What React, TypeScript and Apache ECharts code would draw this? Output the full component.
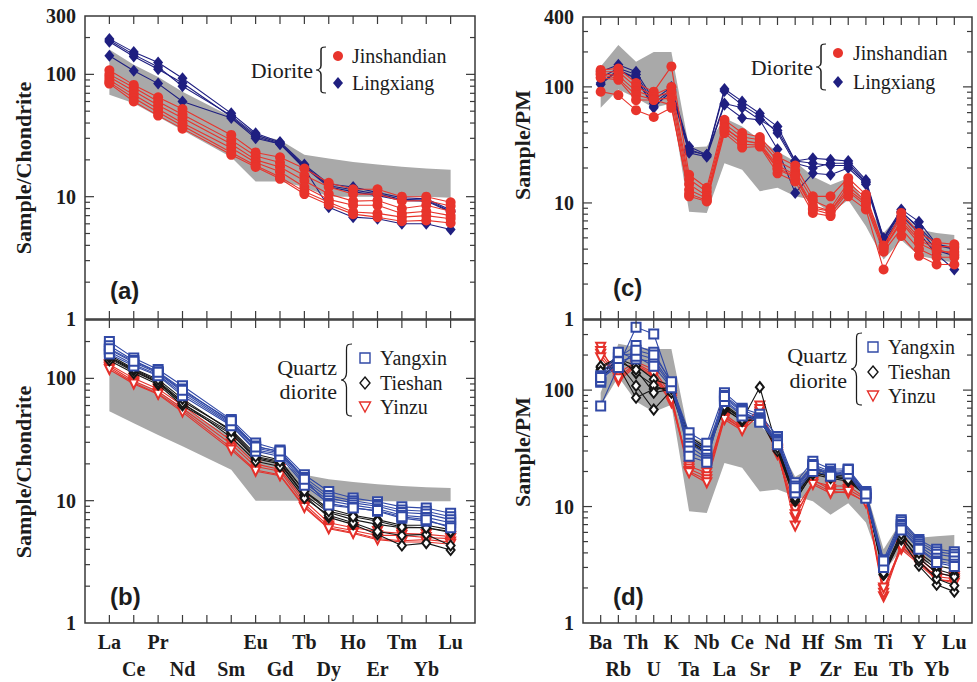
import React, { useEffect, useRef } from "react";
import * as echarts from "echarts";

// ---------------- categories ----------------
const REE_CATEGORIES = ["La", "Ce", "Pr", "Nd", "Pm", "Sm", "Eu", "Gd", "Tb", "Dy", "Ho", "Er", "Tm", "Yb", "Lu"];
const REE_TICK_LABELS = ["La", "Ce", "Pr", "Nd", "", "Sm", "Eu", "Gd", "Tb", "Dy", "Ho", "Er", "Tm", "Yb", "Lu"];
const REE_MEASURED = ["La", "Ce", "Pr", "Nd", "Sm", "Eu", "Gd", "Tb", "Dy", "Ho", "Er", "Tm", "Yb", "Lu"];
const PM_CATEGORIES = ["Ba", "Rb", "Th", "U", "K", "Ta", "Nb", "La", "Ce", "Sr", "Nd", "P", "Hf", "Zr", "Sm", "Eu", "Ti", "Tb", "Y", "Yb", "Lu"];

const REE_Y_MAX = 300;
const PM_Y_MAX = 400;
const LOG_MAJOR_TICKS = [10, 100];
const LOG_MINOR_TICKS = [2, 3, 4, 5, 6, 7, 8, 9, 20, 30, 40, 50, 60, 70, 80, 90, 200, 300];

// ---------------- (a) chondrite-normalised REE, diorite ----------------
const A_JINSHANDIAN = [
  [108, 82, 65, 52, 32, 23, 21, 17, 13, 11.5, 11.5, 10, 10, 9],
  [100, 78, 60, 47, 29, 21.5, 19, 15, 12, 10.5, 10.5, 9.2, 9.3, 8.4],
  [95, 73, 56, 44, 27, 20, 17.5, 13.5, 10.5, 9.2, 9.3, 8.0, 8.5, 7.6],
  [90, 68, 52, 40, 25, 19, 16, 12, 9.5, 8.5, 8.5, 7.3, 7.6, 7.0],
  [86, 64, 49, 38, 23, 18, 14.5, 11, 9, 7.5, 7.3, 6.8, 7.0, 6.6],
  [84, 60, 46, 36, 22, 17.5, 14, 10.5, 8.6, 7.2, 6.8, 6.3, 6.4, 6.1],
];
const A_LINGXIANG = [
  [195, 152, 125, 93, 48, 33, 28, 18.3, 12.7, 12, 10.8, 9.8, 9.6, 7.8],
  [185, 140, 110, 85, 45, 31, 27, 17.5, 12, 11, 10.2, 9.3, 9.2, 7.5],
  [142, 107, 84, 60, 44, 30, 27, 17, 8.2, 6.8, 6.6, 6.0, 6.0, 5.4],
  [190, 145, 115, 80, 46, 32, 27.5, 17.8, 12.3, 11.4, 10.5, 9.5, 9.4, 7.6],
];
const A_FIELD_UPPER = [160, 120, 95, 72, 45, 32, 29, 22, 20.5, 19.2, 18.3, 17.6, 17, 16.6];
const A_FIELD_LOWER = [68, 58, 45, 35, 21, 13.3, 13.3, 12, 10, 10, 10, 10, 10, 9.8];

// ---------------- (b) chondrite-normalised REE, quartz diorite ----------------
const B_YANGXIN = [
  [200, 147, 118, 87, 46, 29.6, 26, 16.3, 11.9, 10.5, 9.8, 8.9, 8.7, 7.9],
  [185, 140, 113, 82, 44, 28, 25, 15.5, 11, 10, 9.3, 8.4, 8.2, 7.4],
  [172, 135, 110, 78, 43, 27, 24.5, 14.8, 10.5, 9.6, 9, 8, 7.8, 7],
  [165, 130, 107, 75, 42, 26, 24, 14, 10, 9.2, 8.6, 7.6, 7.3, 6.6],
  [158, 126, 105, 72, 41, 25.4, 23, 13.4, 9.5, 8.8, 8.2, 7.2, 6.8, 6.2],
  [175, 138, 112, 80, 45, 27.5, 25.5, 15, 9.2, 8.7, 8.3, 7.4, 7.0, 6.0],
];
const B_TIESHAN = [
  [150, 118, 95, 65, 38, 24, 21.5, 12, 8.6, 7.6, 7.0, 6.3, 6.3, 5.8],
  [145, 114, 92, 62, 36, 22.5, 20.5, 11.2, 8.0, 7.0, 6.4, 6.0, 6.0, 5.5],
  [140, 110, 89, 60, 35, 22, 20, 11, 7.3, 6.4, 5.3, 4.3, 4.5, 3.95],
  [148, 116, 93, 63, 33, 21, 19, 10.5, 7.6, 6.6, 5.6, 5.2, 5.3, 4.3],
  [155, 120, 98, 68, 37, 23, 21, 12, 8.2, 7.4, 6.8, 6.1, 6.0, 5.6],
];
const B_YINZU = [
  [126, 95, 78, 57, 29, 19, 17.4, 9.4, 6.2, 5.7, 5.2, 5.2, 5.0, 4.9],
  [122, 92, 75, 55, 27, 17.8, 16.3, 9.0, 6.0, 5.5, 4.9, 4.7, 4.8, 4.6],
  [130, 100, 82, 60, 31, 20, 18, 10, 6.6, 6.0, 5.6, 5.4, 5.3, 5.1],
  [118, 90, 74, 53, 26, 17.4, 16, 8.8, 5.9, 5.4, 4.8, 4.6, 4.6, 4.4],
];
const B_FIELD_UPPER = [118, 95, 78, 58, 33, 22, 20, 16.3, 15, 14.2, 13.6, 13.2, 12.9, 12.7];
const B_FIELD_LOWER = [53.8, 43, 34.5, 27.8, 17.9, 10, 10, 10, 9.9, 9.9, 9.9, 9.9, 9.9, 9.9];

// ---------------- (c) primitive-mantle-normalised, diorite ----------------
const C_JINSHANDIAN = [
  [140, 144, 108, 91, 150, 17.5, 13.5, 52, 40, 37, 25, 21, 11.4, 11.4, 16.4, 11.8, 4.2, 8.2, 5.5, 4.55, 4.4],
  [135, 135, 100, 85, 100, 16, 12.5, 48, 37, 35, 23, 19, 10.5, 9, 15, 11, 4.3, 7.5, 5, 4.2, 4.2],
  [130, 125, 92, 82, 90, 14.5, 11.5, 45, 34, 33, 21, 17.5, 9.5, 8.5, 14, 10.3, 4.0, 6.8, 4.5, 3.8, 3.8],
  [127, 118, 85, 78, 80, 13, 11, 42, 32, 31.5, 19.5, 16.5, 8.8, 8, 12.5, 9.5, 3.8, 6, 4.0, 3.4, 3.4],
  [120, 115, 77, 77, 70, 11.4, 10.3, 40, 30, 30.6, 18, 15.3, 8.2, 7.7, 11.4, 8.8, 2.67, 5.2, 3.5, 2.95, 2.95],
  [91, 85, 63, 55, 66, 12, 10.5, 44, 35, 32, 20, 17, 9, 8.5, 13, 10, 4.1, 7, 4.8, 4.0, 3.6],
];
const C_LINGXIANG = [
  [135, 155, 135, 77, 100, 30.6, 26, 96, 75, 59, 45.5, 23, 24.3, 23.6, 23, 15.8, 5.0, 8.8, 6.9, 4.4, 4.1],
  [120, 145, 128, 72, 95, 29, 25.5, 92, 70, 56, 40, 22, 20, 22, 22, 15.2, 4.8, 8.3, 6.2, 4.3, 4.0],
  [108, 140, 120, 68, 91, 27, 25, 70, 54, 52, 29, 12.2, 18, 17.5, 20, 14.5, 4.6, 7.8, 5.5, 3.6, 2.67],
  [105, 138, 118, 66, 93, 28, 26, 72, 66, 52, 42, 23, 22, 21, 21, 15, 4.9, 8.5, 6.0, 3.9, 3.5],
];
const C_FIELD_UPPER = [150, 230, 165, 200, 200, 30, 30.6, 54, 45.5, 35, 27.7, 22.8, 16.9, 14.3, 16.4, 10, 5.5, 8.2, 5.9, 5.5, 5.3];
const C_FIELD_LOWER = [66, 95, 80, 66, 72, 8.4, 8.2, 22, 19.3, 12.6, 13.5, 11.4, 10.6, 8.2, 10.6, 6.3, 3.25, 4.8, 3.5, 3.25, 3.05];

// ---------------- (d) primitive-mantle-normalised, quartz diorite ----------------
const D_YANGXIN = [
  [73, 160, 346, 303, 110, 43, 35, 95, 70, 62, 40, 16, 24.5, 21, 21, 13.5, 3.5, 7.7, 5.2, 4.3, 4.1],
  [117, 190, 241, 211, 115, 38, 30, 90, 68, 58, 38, 15, 23, 20, 20.5, 13, 3.3, 7.4, 5.0, 4.1, 3.9],
  [125, 200, 205, 185, 112, 35, 28, 85, 65, 56, 37, 14, 22, 19.5, 20, 12.5, 3.2, 7.0, 4.8, 3.9, 3.7],
  [133, 211, 185, 175, 108, 33, 26, 82, 62, 55, 36, 13.5, 21, 19, 19.5, 12, 3.1, 6.8, 4.6, 3.6, 3.4],
  [120, 175, 195, 160, 105, 30, 25, 80, 60, 54, 35.6, 13.1, 20, 18.5, 19, 11.8, 3.0, 6.5, 4.4, 3.4, 3.2],
  [128, 156, 220, 200, 118, 27, 24, 88, 66, 53, 34, 14.5, 22.5, 18.2, 20.8, 12.8, 3.4, 6.3, 4.3, 3.3, 3.06],
];
const D_TIESHAN = [
  [156, 185, 162, 124, 109, 40, 32, 68, 55, 106, 31, 11.1, 19.5, 18.2, 17.1, 13.1, 2.6, 5.2, 3.1, 2.13, 1.86],
  [130, 170, 109, 68, 100, 36, 30, 72, 57, 60, 33, 12, 20, 18.5, 17.5, 12.8, 2.7, 5.6, 3.4, 2.4, 2.1],
  [150, 160, 86, 102, 105, 38, 31, 75, 58, 58, 34, 12.5, 21, 19, 18, 13, 2.8, 6.0, 3.8, 2.9, 2.6],
  [160, 190, 140, 110, 95, 35, 29, 70, 54, 56, 30, 11.5, 19, 17.5, 16.5, 12.5, 2.6, 5.4, 3.6, 2.7, 2.5],
  [145, 175, 150, 95, 102, 37, 30, 73, 56, 57, 32, 12, 20, 18, 17, 12.7, 2.7, 5.8, 4.0, 3.1, 2.9],
];
const D_YINZU = [
  [233, 120, 160, 130, 78, 22.2, 19.5, 60, 46, 73, 30, 9.4, 16, 13.5, 13.1, 11, 1.93, 4.3, 3.2, 2.35, 2.3],
  [203, 130, 170, 140, 85, 21, 18, 62, 48, 65, 31, 6.8, 17, 14, 14, 11.5, 1.68, 4.6, 3.4, 2.5, 2.4],
  [215, 140, 175, 150, 90, 20, 17, 58, 47, 68, 29, 8, 16.5, 15, 15, 11.8, 1.8, 4.8, 3.6, 2.7, 2.5],
  [190, 125, 165, 135, 82, 19.5, 16, 56, 45, 62, 28, 8.5, 15.5, 13, 13.5, 10.8, 2.0, 4.5, 3.3, 2.4, 2.2],
];
const D_FIELD_UPPER = [95, 250, 235, 225, 225, 40, 35, 80, 60, 50, 35, 18, 22, 20, 19, 14, 4.3, 7.5, 5.4, 5.55, 5.7];
const D_FIELD_LOWER = [73, 130, 80, 65, 75, 9.1, 8.8, 23.7, 21.5, 13.5, 14, 12.3, 11.1, 8.5, 10.7, 7.3, 2.7, 4.3, 3.3, 3.3, 3.3];

// ---------------- styles ----------------
const FRAME = "#3a3a3a";
const TXT = "#1c1c1c";
const SERIF = '"Liberation Serif", "Times New Roman", serif';
const SANS = '"Liberation Sans", Arial, sans-serif';
const GREY = "#a9a9a9";
const RED = "#e8342c";
const NAVY = "#1f1f80";
const BLUE = "#3149a6";
const BLACK = "#151515";
const RED2 = "#e5312b";

function pts(values: number[], measured: string[], cats: string[]) {
  return values.map((v, i) => [cats.indexOf(measured[i]), v]);
}

function catFormatter(labels: string[]) {
  return (v: number) => {
    const i = Math.round(v);
    if (i < 0 || i >= labels.length) return "";
    const t = labels[i];
    if (!t) return "";
    return i % 2 === 0 ? t : "\n" + t;
  };
}

function lineGroup(g: number, rows: number[][], measured: string[], cats: string[], st: any) {
  return rows.map((r) => ({
    type: "line",
    name: st.name,
    xAxisIndex: g,
    yAxisIndex: g,
    data: pts(r, measured, cats),
    symbol: st.symbol,
    symbolSize: st.size,
    symbolRotate: st.rotate || 0,
    showSymbol: true,
    lineStyle: { color: st.color, width: 1.1 },
    itemStyle: { color: st.color, borderColor: st.color, borderWidth: st.empty ? 1.3 : 0 },
    emphasis: { disabled: true },
    silent: true,
    z: st.z,
  }));
}

function bandSeries(g: number, upper: number[], lower: number[], measured: string[], cats: string[]) {
  const up = pts(upper, measured, cats);
  const lo = pts(lower, measured, cats);
  return {
    type: "custom",
    xAxisIndex: g,
    yAxisIndex: g,
    silent: true,
    z: 1,
    data: up.map((p, i) => [p[0], lo[i][1], p[1]]),
    renderItem: (params: any, api: any) => {
      if (params.dataIndex !== 0) return null;
      const points = up.map((p) => api.coord(p)).concat(lo.slice().reverse().map((p) => api.coord(p)));
      return { type: "polygon", shape: { points }, style: { fill: GREY } };
    },
  };
}

// frame box + ticks on all four edges (category ticks, decade ticks, log minor ticks)
function frameSeries(g: number, ncat: number, ymax: number) {
  return {
    type: "custom",
    xAxisIndex: g,
    yAxisIndex: g,
    silent: true,
    clip: false,
    z: 10,
    data: [[0, 1]],
    renderItem: (params: any, api: any) => {
      if (params.dataIndex !== 0) return null;
      const L = api.coord([-1, 1])[0];
      const R = api.coord([ncat, 1])[0];
      const B = api.coord([0, 1])[1];
      const T = api.coord([0, ymax])[1];
      const st = { stroke: FRAME, lineWidth: 1.2 };
      const children: any[] = [
        { type: "rect", shape: { x: L, y: T, width: R - L, height: B - T }, style: { fill: "none", stroke: FRAME, lineWidth: 1.5 } },
      ];
      LOG_MINOR_TICKS.filter((v) => v < ymax).forEach((v) => {
        const y = api.coord([0, v])[1];
        children.push({ type: "line", shape: { x1: L, y1: y, x2: L + 5, y2: y }, style: st });
        children.push({ type: "line", shape: { x1: R - 5, y1: y, x2: R, y2: y }, style: st });
      });
      LOG_MAJOR_TICKS.forEach((v) => {
        const y = api.coord([0, v])[1];
        children.push({ type: "line", shape: { x1: L, y1: y, x2: L + 9, y2: y }, style: st });
        children.push({ type: "line", shape: { x1: R - 9, y1: y, x2: R, y2: y }, style: st });
      });
      for (let i = 0; i < ncat; i++) {
        const x = api.coord([i, 1])[0];
        children.push({ type: "line", shape: { x1: x, y1: T, x2: x, y2: T + 8 }, style: st });
        children.push({ type: "line", shape: { x1: x, y1: B - 8, x2: x, y2: B }, style: st });
      }
      return { type: "group", children };
    },
  };
}

function axesFor(g: number, n: number, labels: string[] | null, ymax: number, showMax: boolean) {
  const x = {
    type: "value", gridIndex: g, min: -1, max: n, interval: 1, position: "bottom",
    axisLine: { show: false, onZero: false },
    axisTick: { show: false },
    axisLabel: labels
      ? { show: true, formatter: catFormatter(labels), fontFamily: SERIF, fontWeight: "bold", fontSize: 20, color: TXT, lineHeight: 27, margin: 5 }
      : { show: false },
    splitLine: { show: false },
  };
  const y = {
    type: "log", logBase: 10, gridIndex: g, min: 1, max: ymax, position: "left",
    axisLine: { show: false, onZero: false },
    axisTick: { show: false },
    axisLabel: {
      show: true, showMaxLabel: showMax, fontFamily: SERIF, fontWeight: "bold", fontSize: 20, color: TXT, margin: 9,
      formatter: (v: number) => String(Math.round(v)),
    },
    splitLine: { show: false },
  };
  return { x, y };
}

function txt(text: string, x: number, y: number, size: number, align: string, opts: any = {}) {
  return {
    type: "text",
    x, y,
    rotation: opts.rotation || 0,
    silent: true,
    z: 100,
    style: {
      text,
      fill: TXT,
      font: `${opts.weight || "normal"} ${size}px ${opts.family || SERIF}`,
      align, textAlign: align,
      verticalAlign: "middle", textVerticalAlign: "middle",
    },
  };
}

function brace(x: number, y: number, w: number, h: number) {
  return {
    type: "brace", x, y, scaleX: w / 14, scaleY: h / 100, silent: true, z: 100,
    style: { stroke: TXT, fill: null, lineWidth: 1.2, strokeNoScale: true },
  };
}

function diamond(cx: number, cy: number, hw: number, hh: number, color: string, empty = false) {
  return {
    type: "polygon", silent: true, z: 100,
    shape: { points: [[cx, cy - hh], [cx + hw, cy], [cx, cy + hh], [cx - hw, cy]] },
    style: empty ? { fill: "#fff", stroke: color, lineWidth: 1.4 } : { fill: color },
  };
}

export default function App() {
  const ref = useRef<HTMLDivElement>(null);
  useEffect(() => {
    if (!ref.current) return;
    echarts.graphic.registerShape(
      "brace",
      echarts.graphic.extendPath("M14,0 C6,0 7,3 7,12 L7,40 C7,46 4,50 0,50 C4,50 7,54 7,60 L7,88 C7,97 6,100 14,100", {}) as any
    );
    const chart = echarts.init(ref.current, null, { renderer: "svg" });

    const axA = axesFor(0, REE_CATEGORIES.length, null, REE_Y_MAX, true);
    const axB = axesFor(1, REE_CATEGORIES.length, REE_TICK_LABELS, REE_Y_MAX, false);
    const axC = axesFor(2, PM_CATEGORIES.length, null, PM_Y_MAX, true);
    const axD = axesFor(3, PM_CATEGORIES.length, PM_CATEGORIES, PM_Y_MAX, false);

    const series: any[] = [
      bandSeries(0, A_FIELD_UPPER, A_FIELD_LOWER, REE_MEASURED, REE_CATEGORIES),
      bandSeries(1, B_FIELD_UPPER, B_FIELD_LOWER, REE_MEASURED, REE_CATEGORIES),
      bandSeries(2, C_FIELD_UPPER, C_FIELD_LOWER, PM_CATEGORIES, PM_CATEGORIES),
      bandSeries(3, D_FIELD_UPPER, D_FIELD_LOWER, PM_CATEGORIES, PM_CATEGORIES),
      ...lineGroup(0, A_LINGXIANG, REE_MEASURED, REE_CATEGORIES, { name: "Lingxiang", symbol: "diamond", size: [10, 12], color: NAVY, z: 3 }),
      ...lineGroup(0, A_JINSHANDIAN, REE_MEASURED, REE_CATEGORIES, { name: "Jinshandian", symbol: "circle", size: 10, color: RED, z: 4 }),
      ...lineGroup(1, B_YINZU, REE_MEASURED, REE_CATEGORIES, { name: "Yinzu", symbol: "emptyTriangle", size: 9, rotate: 180, color: RED2, empty: true, z: 3 }),
      ...lineGroup(1, B_TIESHAN, REE_MEASURED, REE_CATEGORIES, { name: "Tieshan", symbol: "emptyDiamond", size: [8, 10], color: BLACK, empty: true, z: 4 }),
      ...lineGroup(1, B_YANGXIN, REE_MEASURED, REE_CATEGORIES, { name: "Yangxin", symbol: "emptyRect", size: 9, color: BLUE, empty: true, z: 5 }),
      ...lineGroup(2, C_LINGXIANG, PM_CATEGORIES, PM_CATEGORIES, { name: "Lingxiang", symbol: "diamond", size: [10, 12], color: NAVY, z: 3 }),
      ...lineGroup(2, C_JINSHANDIAN, PM_CATEGORIES, PM_CATEGORIES, { name: "Jinshandian", symbol: "circle", size: 10, color: RED, z: 4 }),
      ...lineGroup(3, D_YINZU, PM_CATEGORIES, PM_CATEGORIES, { name: "Yinzu", symbol: "emptyTriangle", size: 9, rotate: 180, color: RED2, empty: true, z: 3 }),
      ...lineGroup(3, D_TIESHAN, PM_CATEGORIES, PM_CATEGORIES, { name: "Tieshan", symbol: "emptyDiamond", size: [8, 10], color: BLACK, empty: true, z: 4 }),
      ...lineGroup(3, D_YANGXIN, PM_CATEGORIES, PM_CATEGORIES, { name: "Yangxin", symbol: "emptyRect", size: 9, color: BLUE, empty: true, z: 5 }),
      frameSeries(0, REE_CATEGORIES.length, REE_Y_MAX),
      frameSeries(1, REE_CATEGORIES.length, REE_Y_MAX),
      frameSeries(2, PM_CATEGORIES.length, PM_Y_MAX),
      frameSeries(3, PM_CATEGORIES.length, PM_Y_MAX),
    ];

    const graphic: any[] = [
      // axis titles
      txt("Sample/Chondrite", 23, 168, 22, "center", { weight: "bold", rotation: Math.PI / 2 }),
      txt("Sample/Chondrite", 23, 472, 22, "center", { weight: "bold", rotation: Math.PI / 2 }),
      txt("Sample/PM", 522, 145, 22, "center", { weight: "bold", rotation: Math.PI / 2 }),
      txt("Sample/PM", 522, 452, 22, "center", { weight: "bold", rotation: Math.PI / 2 }),
      // panel letters
      txt("(a)", 110, 290, 24, "left", { weight: "bold", family: SANS }),
      txt("(b)", 110, 596, 24, "left", { weight: "bold", family: SANS }),
      txt("(c)", 613, 287, 24, "left", { weight: "bold", family: SANS }),
      txt("(d)", 613, 596, 24, "left", { weight: "bold", family: SANS }),
      // legend (a)
      txt("Diorite", 313, 70, 22, "right"),
      brace(316, 47, 10, 46),
      { type: "circle", silent: true, z: 100, shape: { cx: 338, cy: 56, r: 5 }, style: { fill: RED } },
      diamond(338, 83, 5, 6, NAVY),
      txt("Jinshandian", 352, 56, 20, "left"),
      txt("Lingxiang", 352, 83, 20, "left"),
      // legend (c)
      txt("Diorite", 813, 67, 22, "right"),
      brace(816, 44, 10, 46),
      { type: "circle", silent: true, z: 100, shape: { cx: 838, cy: 53, r: 5 }, style: { fill: RED } },
      diamond(838, 82, 5, 6, NAVY),
      txt("Jinshandian", 853, 53, 20, "left"),
      txt("Lingxiang", 853, 82, 20, "left"),
      // legend (b)
      txt("Quartz", 337, 367, 22, "right"),
      txt("diorite", 337, 391, 22, "right"),
      brace(341, 344, 11, 72),
      { type: "rect", silent: true, z: 100, shape: { x: 360, y: 353, width: 10, height: 10 }, style: { fill: "#fff", stroke: BLUE, lineWidth: 1.4 } },
      diamond(365, 383, 5, 6, BLACK, true),
      { type: "polygon", silent: true, z: 100, shape: { points: [[359.5, 402], [370.5, 402], [365, 412]] }, style: { fill: "#fff", stroke: RED2, lineWidth: 1.4 } },
      txt("Yangxin", 380, 358, 20, "left"),
      txt("Tieshan", 380, 383, 20, "left"),
      txt("Yinzu", 380, 407, 20, "left"),
      // legend (d)
      txt("Quartz", 847, 355, 22, "right"),
      txt("diorite", 847, 380, 22, "right"),
      brace(851, 333, 11, 72),
      { type: "rect", silent: true, z: 100, shape: { x: 868, y: 342, width: 10, height: 10 }, style: { fill: "#fff", stroke: BLUE, lineWidth: 1.4 } },
      diamond(873, 372, 5, 6, BLACK, true),
      { type: "polygon", silent: true, z: 100, shape: { points: [[867.5, 391], [878.5, 391], [873, 401]] }, style: { fill: "#fff", stroke: RED2, lineWidth: 1.4 } },
      txt("Yangxin", 888, 347, 20, "left"),
      txt("Tieshan", 888, 372, 20, "left"),
      txt("Yinzu", 888, 396, 20, "left"),
    ];

    chart.setOption({
      animation: false,
      backgroundColor: "#ffffff",
      grid: [
        { left: 85, top: 16, width: 390, height: 303 },
        { left: 85, top: 320, width: 390, height: 304 },
        { left: 583, top: 17, width: 389, height: 302 },
        { left: 583, top: 320, width: 389, height: 303 },
      ],
      xAxis: [axA.x, axB.x, axC.x, axD.x],
      yAxis: [axA.y, axB.y, axC.y, axD.y],
      series,
      graphic,
    });
    return () => chart.dispose();
  }, []);
  return (
    <div
      ref={ref}
      style={{ position: "fixed", left: 0, top: 0, width: 977, height: 682, background: "#fff" }}
    />
  );
}
